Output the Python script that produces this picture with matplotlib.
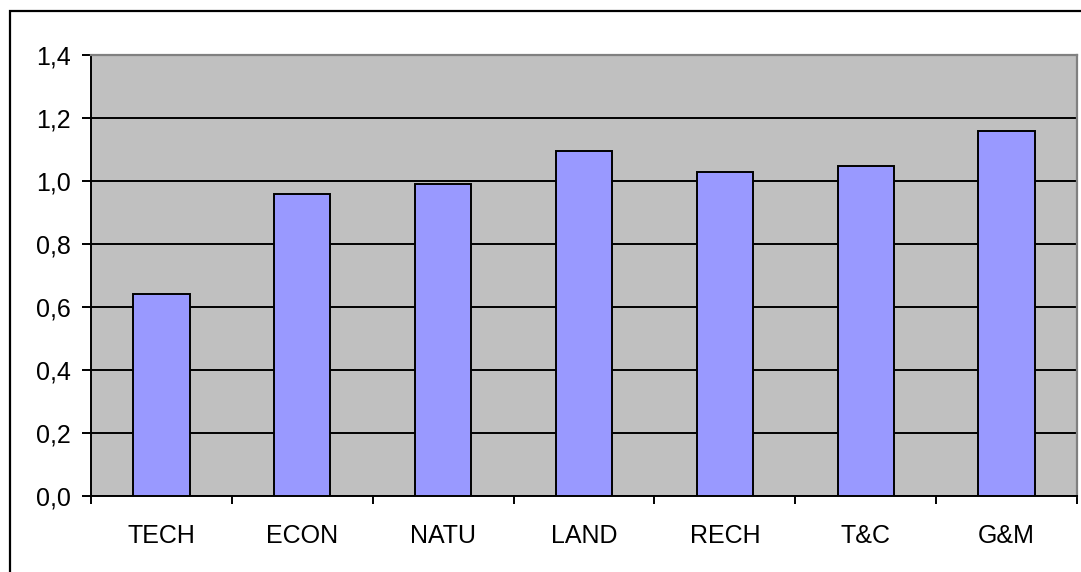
import matplotlib
matplotlib.use("Agg")
import matplotlib.pyplot as plt
from matplotlib.patches import Rectangle
from matplotlib.ticker import FixedLocator, FuncFormatter
import numpy as np

categories = ["TECH", "ECON", "NATU", "LAND", "RECH", "T&C", "G&M"]
values = [0.641, 0.958, 0.989, 1.096, 1.028, 1.047, 1.160]
yticks = [0.0, 0.2, 0.4, 0.6, 0.8, 1.0, 1.2, 1.4]

plt.rcParams['font.family'] = ['Liberation Sans', 'DejaVu Sans']

W, H = 1081, 572
fig = plt.figure(figsize=(W / 100, H / 100), dpi=100)
fig.patch.set_facecolor("white")

# outer chart frame (extends beyond right/bottom of image)
fig.patches.append(Rectangle((10 / W, -0.1), 1.2, 1 - 11 / H + 0.1,
                             transform=fig.transFigure, fill=False,
                             edgecolor="black", linewidth=1.6, zorder=0))

left, right, top, bottom = 91 / W, 1077 / W, 1 - 55 / H, 1 - 496 / H
ax = fig.add_axes([left, bottom, right - left, top - bottom])
ax.set_facecolor("#C0C0C0")

x = np.arange(len(categories))
ax.bar(x, values, width=0.4, color="#9999FF", edgecolor="black",
       linewidth=1.4, zorder=3)

ax.set_xlim(-0.5, len(categories) - 0.5)
ax.set_ylim(0, 1.4)
ax.set_yticks(yticks)
ax.yaxis.set_major_formatter(FuncFormatter(lambda v, p: f"{v:.1f}".replace(".", ",")))
ax.set_xticks(x)
ax.set_xticklabels(categories)
ax.xaxis.set_minor_locator(FixedLocator(np.arange(len(categories) + 1) - 0.5))

ax.set_axisbelow(True)
ax.yaxis.grid(True, color="black", linewidth=1.4)
ax.xaxis.grid(False)

ax.tick_params(axis="x", which="major", length=0, pad=20, labelsize=18)
ax.tick_params(axis="x", which="minor", length=6, width=1.4, direction="out", color="black")
ax.tick_params(axis="y", length=6.5, width=1.4, direction="out", pad=8, labelsize=18)

for s in ["left", "bottom"]:
    ax.spines[s].set_color("black")
    ax.spines[s].set_linewidth(1.4)
for s in ["top", "right"]:
    ax.spines[s].set_color("#808080")
    ax.spines[s].set_linewidth(1.6)

fig.savefig("out.png", dpi=100, facecolor="white")
